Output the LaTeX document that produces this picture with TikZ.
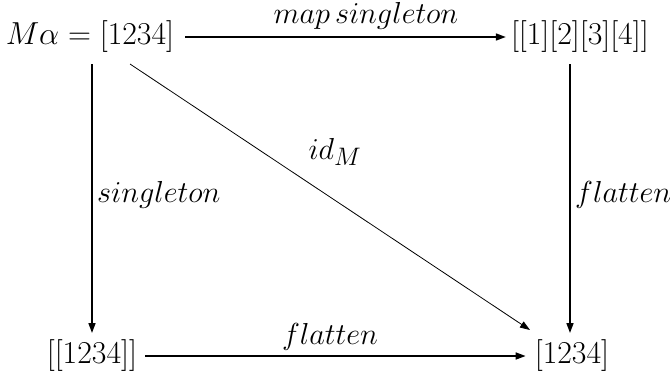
\documentclass[tikz,border=0pt]{standalone}
\usepackage{graphicx}
\usetikzlibrary{arrows.meta}
\newcommand{\mymath}[1]{\scalebox{1.28}{$#1$}}
\newcommand{\mylbl}[1]{\scalebox{1.22}{$#1$}}
\begin{document}
\begin{tikzpicture}[x=1pt,y=-1pt,
  obj/.style={inner sep=0pt,font=\fontsize{30}{36}\selectfont},
  lbl/.style={inner sep=0pt,font=\fontsize{30}{36}\selectfont},
  arr/.style={line width=1.6pt,-{Triangle[length=10pt,width=7pt]}},
  thinarr/.style={line width=0.8pt,-{Triangle[length=10pt,width=7pt]}}]
\useasboundingbox (0,0) rectangle (670,375);
\node[obj] (A) at (90,37) {\mymath{M\alpha = [1234]}};
\node[obj] (B) at (580,37) {\mymath{[[1][2][3][4]]}};
\node[obj] (C) at (92,356) {\mymath{[[1234]]}};
\node[obj] (D) at (572,356) {\mymath{[1234]}};
\coordinate (As) at (92,64);
\coordinate (Ad) at (130,64);
\coordinate (Bs) at (570,64);
\coordinate (Dn) at (570,333);
\coordinate (Dd) at (530,330);
\coordinate (Cn) at (92,333);
\draw[arr] ([xshift=11pt]A.east) -- ([xshift=-5pt]B.west);
\node[lbl] (l1) at (366,16) {\mylbl{map\,singleton}};
\draw[arr] (As) -- (Cn);
\node[lbl,anchor=west] (l2) at (97,195) {\mylbl{singleton}};
\draw[arr] (Bs) -- (Dn);
\node[lbl,anchor=west] (l3) at (575,195) {\mylbl{flatten}};
\draw[arr] ([xshift=8pt]C.east) -- ([xshift=-9pt]D.west);
\node[lbl] (l4) at (330,337) {\mylbl{flatten}};
\draw[thinarr] (Ad) -- (Dd);
\node[lbl] (idm) at (335,152) {\mylbl{id_M}};
\end{tikzpicture}
\end{document}
